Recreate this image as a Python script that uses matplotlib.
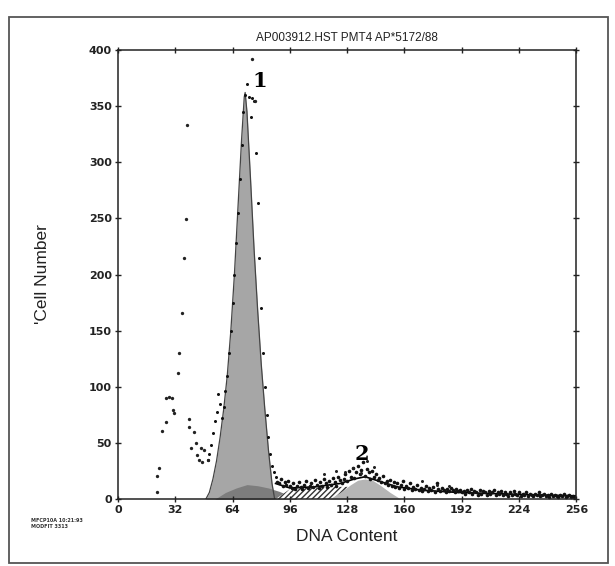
import matplotlib.pyplot as plt
from matplotlib.patches import Rectangle

# --- data ---
title = "AP003912.HST PMT4 AP*5172/88"
x_ticks = [0, 32, 64, 96, 128, 160, 192, 224, 256]
y_ticks = [0, 50, 100, 150, 200, 250, 300, 350, 400]

# G1 model peak (grey fill)
g1_x = [49, 51, 53, 55, 57, 59, 61, 63, 65, 67, 69, 70.5, 71, 72, 74, 76, 78, 80, 82, 84, 86, 87.5]
g1_y = [0, 6, 18, 34, 55, 80, 110, 150, 200, 260, 320, 358, 362, 345, 285, 222, 168, 120, 80, 44, 14, 0]

# low darker hump under the G1 peak
base_x = [54, 60, 66, 72, 78, 84, 90, 96, 100]
base_y = [0, 6, 10, 13, 12, 10, 7, 3, 0]

# S-phase (hatched)
s_x = [88, 96, 104, 112, 120, 128, 136, 144, 150]
s_y = [0, 9, 10, 10, 11, 11, 10, 8, 0]

# G2 model peak
g2_x = [118, 124, 130, 134, 138, 142, 146, 152, 158]
g2_y = [0, 6, 13, 17, 18, 17, 13, 6, 0]

# debris / stray points
debris_x = [21.5, 22, 23, 24.3, 26.5, 26.5, 28.2, 30, 30.5, 31, 33.3, 33.8, 35.6, 36.7, 38, 38.4,
            39.5, 39.5, 40.6, 42.3, 43.5, 44, 45, 46.3, 47, 48, 50]
debris_y = [6, 21, 28, 61, 69, 90, 91, 90, 79, 77, 112, 130, 166, 215, 249, 333,
            71, 64, 46, 60, 50, 39, 35, 46, 33, 44, 35]

# G1 peak counts per channel
peak_ch = list(range(50, 89))
peak_cnt = [35, 40, 48, 59, 70, 78, 94, 85, 72, 82, 96, 110, 130, 150, 175, 200, 228, 255,
            285, 315, 345, 360, 370, 358, 340, 357, 354, 308, 264, 215, 170, 130, 100, 75,
            55, 40, 30, 24, 20]
outlier_x = [75, 76.6]
outlier_y = [392, 354]

# tail counts per channel (89..255)
tail_ch = list(range(89, 256))
tail_cnt = [15, 14, 18, 12, 15, 13, 16, 12,
            10, 14, 9, 12, 15, 11, 9, 13, 16, 10, 12, 14, 11, 17, 13, 10, 15, 12, 18, 14, 11,
            16, 13, 19, 15, 12, 20, 17, 14,
            18, 22, 16, 25, 20, 28, 19, 24, 30, 22, 26, 33, 21, 27, 24, 18, 25, 20, 22, 17,
            19, 15, 21, 14, 16,
            13, 17, 12, 15, 11, 14, 10, 13, 16, 9, 12, 10, 14, 8, 11, 9, 13, 8, 10, 7,
            9, 12, 7, 10, 8, 11, 6, 14, 9, 7, 10, 8, 6, 9, 7, 10, 8, 6, 9, 7, 8, 6,
            7, 5, 8, 6, 9, 5, 7, 6, 4, 8, 5, 7, 6, 4, 7, 5, 6, 8, 4, 6, 5, 7, 4, 6, 5, 3,
            6, 4, 7, 5, 4, 6, 3, 5, 4, 6, 3, 5, 4, 3, 5, 4, 6, 3, 4, 5, 3, 4, 2, 5, 3, 4,
            3, 2, 4, 3, 5, 2, 3, 4, 2, 3, 2]
extra_x = [127, 131, 136, 139, 143, 115, 122, 170, 178, 185]
extra_y = [24, 28, 23, 34, 29, 22, 25, 16, 13, 12]

# smooth fit along the tail
fit_x = [88, 96, 110, 124, 132, 138, 146, 156, 170, 190, 210, 230, 256]
fit_y = [14, 10, 11, 14, 18, 20, 16, 11, 8, 6, 5, 4, 3]

tick_font = dict(family='DejaVu Sans', fontsize=8, fontweight='bold', color='#444444')

fig = plt.figure(figsize=(6.15, 5.66), dpi=100)
fig.patch.set_facecolor('white')
ax = fig.add_axes([0.192, 0.118, 0.745, 0.794])

ax.fill_between(g1_x, g1_y, color='#a6a6a6', linewidth=0)
ax.plot(g1_x, g1_y, color='#444444', lw=0.9)
ax.fill_between(base_x, base_y, color='#7d7d7d', linewidth=0)
ax.fill_between(s_x, s_y, facecolor='white', edgecolor='#333333', hatch='//////', linewidth=0)
ax.fill_between(g2_x, g2_y, color='#b5b5b5', linewidth=0)
ax.plot(fit_x, fit_y, color='black', lw=1.2)

ax.plot(peak_ch, peak_cnt, 'o', color='#111111', ms=2.2, mew=0)
ax.plot(tail_ch, tail_cnt, 'o', color='#111111', ms=2.6, mew=0)
ax.plot(debris_x, debris_y, 'o', color='#222222', ms=2.4, mew=0)
ax.plot(outlier_x, outlier_y, 'o', color='#222222', ms=2.4, mew=0)
ax.plot(extra_x, extra_y, 'o', color='#222222', ms=2.2, mew=0)

ax.text(79, 372, '1', family='DejaVu Serif', fontsize=15, fontweight='bold', ha='center', va='center')
ax.text(136, 40, '2', family='DejaVu Serif', fontsize=15, fontweight='bold', ha='center', va='center')

ax.set_xlim(0, 256)
ax.set_ylim(0, 400)
ax.set_xticks(x_ticks)
ax.set_yticks(y_ticks)
ax.set_xticklabels([str(v) for v in x_ticks], **tick_font)
ax.set_yticklabels([str(v) for v in y_ticks], **tick_font)
ax.tick_params(direction='inout', length=5, width=1, colors='#222222', top=True, right=True, pad=2)
for s in ax.spines.values():
    s.set_linewidth(1.1)
    s.set_color('#222222')

ax.set_title(title, family='Liberation Sans', fontsize=8.5, color='#222222', pad=6)
ax.set_xlabel('DNA Content', family='Liberation Sans', fontsize=12.5, color='#222222', labelpad=10)
ax.set_ylabel("'Cell Number", family='Liberation Sans', fontsize=12.5, color='#222222', labelpad=28)

fig.text(0.05, 0.075, 'MFCP10A 10:21:93\nMODFIT 3313', fontsize=3.5, color='#333333',
         family='DejaVu Sans', fontweight='bold', va='center')

fig.patches.append(Rectangle((0.015, 0.005), 0.973, 0.965, transform=fig.transFigure,
                             fill=False, edgecolor='#555555', lw=1.3))

fig.savefig('out.png', dpi=100)
